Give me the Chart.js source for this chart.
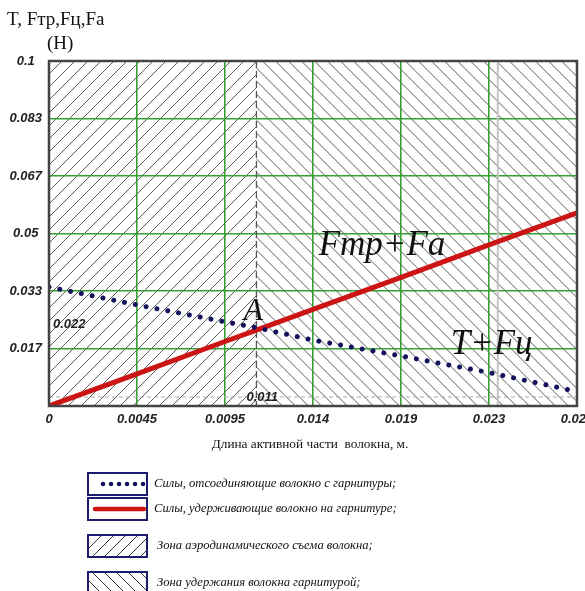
<!DOCTYPE html>
<html>
<head>
<meta charset="utf-8">
<script src="https://cdn.jsdelivr.net/npm/chart.js@4/dist/chart.umd.min.js"></script>
<style>
  html, body { margin: 0; padding: 0; background: #fff; }
  #wrap { width: 585px; height: 591px; }
</style>
</head>
<body>
<div id="wrap"><canvas id="forceChart"></canvas></div>
<script>
// values (x in metres, forces in H)
const lengths = [0, 0.00467, 0.00933, 0.011, 0.014, 0.01867, 0.02333, 0.028];
const detachForces = [0.0345, 0.0293, 0.0244, 0.0227, 0.0191, 0.0145, 0.0097, 0.0042];
const holdForces = [0, 0.0093, 0.0187, 0.022, 0.028, 0.0373, 0.0467, 0.056];
const xTickLabels = ['0', '0.0045', '0.0095', '0.014', '0.019', '0.023', '0.028'];
const yTickLabels = ['', '0.017', '0.033', '0.05', '0.067', '0.083', '0.1'];
const zoneBoundary = 0.011;
const pointA = [0.011, 0.022];
const guideX = 0.0238;
const guideY = 0.0026;
const seriesNames = ['T+Fц', 'Fтр+Fa'];
const legendLabels = [
  'Силы, отсоединяющие волокно с гарнитуры;',
  'Силы, удерживающие волокно на гарнитуре;',
  'Зона аэродинамического съема волокна;',
  'Зона удержания волокна гарнитурой;'
];

const BLUE = '#12125e';
const RED = '#cc1414';
const GREEN = '#36a036';
const tickFont = { family: 'Liberation Sans', size: 13, style: 'italic', weight: 'bold' };

function hatch(ctx, x0, y0, x1, y1, dir, gap) {
  const h = y1 - y0;
  ctx.save();
  ctx.beginPath();
  ctx.rect(x0, y0, x1 - x0, h);
  ctx.clip();
  ctx.beginPath();
  for (let x = x0 - h; x <= x1 + h; x += gap) {
    if (dir > 0) { ctx.moveTo(x, y1); ctx.lineTo(x + h, y0); }
    else { ctx.moveTo(x, y0); ctx.lineTo(x + h, y1); }
  }
  ctx.stroke();
  ctx.restore();
}

const zonesPlugin = {
  id: 'zones',
  beforeDraw(chart) {
    const { ctx, chartArea: a, scales: { x } } = chart;
    const bx = x.getPixelForValue(zoneBoundary);
    ctx.save();
    ctx.strokeStyle = '#5c5c5c';
    ctx.lineWidth = 1;
    hatch(ctx, a.left, a.top, bx, a.bottom, 1, 13);
    hatch(ctx, bx, a.top, a.right, a.bottom, -1, 13);
    ctx.restore();
  },
  beforeDatasetsDraw(chart) {
    const { ctx, chartArea: a, scales: { x, y } } = chart;
    ctx.save();
    // light grey guides
    ctx.strokeStyle = '#c4c4c4';
    ctx.lineWidth = 2;
    const gx = x.getPixelForValue(guideX);
    ctx.beginPath(); ctx.moveTo(gx, a.top); ctx.lineTo(gx, a.bottom); ctx.stroke();
    ctx.strokeStyle = '#a8a8a8';
    ctx.lineWidth = 1;
    ctx.setLineDash([4, 3]);
    const gy = y.getPixelForValue(guideY);
    ctx.beginPath(); ctx.moveTo(a.left, gy); ctx.lineTo(a.right, gy); ctx.stroke();
    // zone boundary
    ctx.strokeStyle = '#555';
    ctx.lineWidth = 1.3;
    ctx.setLineDash([7, 3]);
    const bx = x.getPixelForValue(zoneBoundary);
    ctx.beginPath(); ctx.moveTo(bx, a.top); ctx.lineTo(bx, a.bottom); ctx.stroke();
    ctx.restore();
  },
  afterDatasetsDraw(chart) {
    const { ctx, chartArea: a, scales: { x, y } } = chart;
    ctx.save();
    ctx.strokeStyle = '#444';
    ctx.lineWidth = 2.5;
    ctx.strokeRect(a.left, a.top, a.right - a.left, a.bottom - a.top);

    // curve names and point A
    ctx.fillStyle = '#111';
    ctx.textBaseline = 'alphabetic';
    ctx.font = 'italic 35px "Liberation Serif"';
    ctx.fillText(seriesNames[1], x.getPixelForValue(0.0143), y.getPixelForValue(0.0438));
    ctx.fillText(seriesNames[0], x.getPixelForValue(0.0213), y.getPixelForValue(0.0151));
    ctx.font = 'italic 32px "Liberation Serif"';
    ctx.fillText('A', x.getPixelForValue(pointA[0]) - 13, y.getPixelForValue(pointA[1]) - 10);

    // coordinates of A
    ctx.font = 'italic bold 13px "Liberation Sans"';
    ctx.textBaseline = 'middle';
    ctx.fillStyle = '#222';
    ctx.fillText(pointA[1].toString(), a.left + 4, y.getPixelForValue(pointA[1]) - 6);
    ctx.fillText(pointA[0].toString(), x.getPixelForValue(pointA[0]) - 10, y.getPixelForValue(guideY));
    ctx.restore();
  },
  afterDraw(chart) {
    const { ctx, chartArea: a } = chart;
    const ds = chart.data.datasets;
    ctx.save();
    ctx.fillStyle = '#111';
    ctx.textBaseline = 'middle';
    ctx.font = '19px "Liberation Serif"';
    ctx.fillText('T, Fтр,Fц,Fa', 7, 20);
    ctx.fillText('(H)', 47, 44);

    ctx.font = '13.3px "Liberation Serif"';
    ctx.textAlign = 'center';
    ctx.fillText('Длина активной части  волокна, м.', (a.left + a.right) / 2 - 3, 445);

    // legend
    const rows = [473, 498, 535, 572];
    const boxX = 88, boxW = 59, boxH = 22;
    ctx.textAlign = 'left';
    ctx.font = 'italic 12.6px "Liberation Serif"';
    rows.forEach((top, i) => {
      const cy = top + boxH / 2;
      ctx.strokeStyle = '#1c1c6e';
      ctx.lineWidth = 2;
      ctx.setLineDash([]);
      ctx.strokeRect(boxX, top, boxW, boxH);
      if (i < 2) {
        const d = ds[i];
        ctx.strokeStyle = d.borderColor;
        ctx.lineWidth = 4.5;
        ctx.lineCap = 'round';
        ctx.setLineDash(i === 0 ? [0.01, 8] : []);
        ctx.beginPath();
        ctx.moveTo(i === 0 ? 103 : 95, cy);
        ctx.lineTo(144, cy);
        ctx.stroke();
        ctx.setLineDash([]);
      } else {
        ctx.strokeStyle = '#333';
        ctx.lineWidth = 1;
        hatch(ctx, boxX + 1, top + 1, boxX + boxW - 1, top + boxH - 1, i === 2 ? 1 : -1, 12);
      }
      ctx.fillStyle = '#111';
      ctx.fillText(legendLabels[i], i < 2 ? 154 : 157, cy);
    });
    ctx.restore();
  }
};

new Chart(document.getElementById('forceChart').getContext('2d'), {
  type: 'line',
  data: {
    datasets: [{
      label: legendLabels[0],
      data: lengths.map((v, i) => ({ x: v, y: detachForces[i] })),
      borderColor: BLUE,
      borderWidth: 5,
      borderDash: [0.01, 11],
      borderCapStyle: 'round',
      pointRadius: 0,
      tension: 0,
      fill: false
    }, {
      label: legendLabels[1],
      data: lengths.map((v, i) => ({ x: v, y: holdForces[i] })),
      borderColor: RED,
      borderWidth: 5,
      borderCapStyle: 'round',
      pointRadius: 0,
      tension: 0,
      fill: false
    }]
  },
  options: {
    responsive: true,
    maintainAspectRatio: false,
    animation: false,
    layout: { padding: { left: 0, top: 61, right: 8, bottom: 0 } },
    plugins: {
      legend: { display: false },
      tooltip: { enabled: false }
    },
    scales: {
      x: {
        type: 'linear',
        min: 0,
        max: 0.028,
        afterBuildTicks: s => {
          s.ticks = xTickLabels.map((_, i) => ({ value: s.min + (s.max - s.min) * i / (xTickLabels.length - 1) }));
        },
        afterFit: s => { s.height = 185; s.paddingLeft = 0; s.paddingRight = 0; },
        grid: { color: GREEN, lineWidth: 1.6, drawTicks: false },
        border: { display: false },
        ticks: {
          padding: 6,
          maxRotation: 0,
          autoSkip: false,
          color: '#222',
          font: tickFont,
          callback: (v, i) => xTickLabels[i]
        }
      },
      y: {
        type: 'linear',
        min: 0,
        max: 0.1,
        afterBuildTicks: s => {
          s.ticks = yTickLabels.map((_, i) => ({ value: s.min + (s.max - s.min) * i / (yTickLabels.length - 1) }));
        },
        afterFit: s => { s.width = 49; s.paddingTop = 0; s.paddingBottom = 0; },
        grid: { color: GREEN, lineWidth: 1.6, drawTicks: false },
        border: { display: false },
        ticks: {
          padding: 7,
          autoSkip: false,
          crossAlign: 'center',
          color: '#222',
          font: tickFont,
          callback: (v, i) => yTickLabels[i]
        }
      }
    }
  },
  plugins: [zonesPlugin]
});
</script>
</body>
</html>
